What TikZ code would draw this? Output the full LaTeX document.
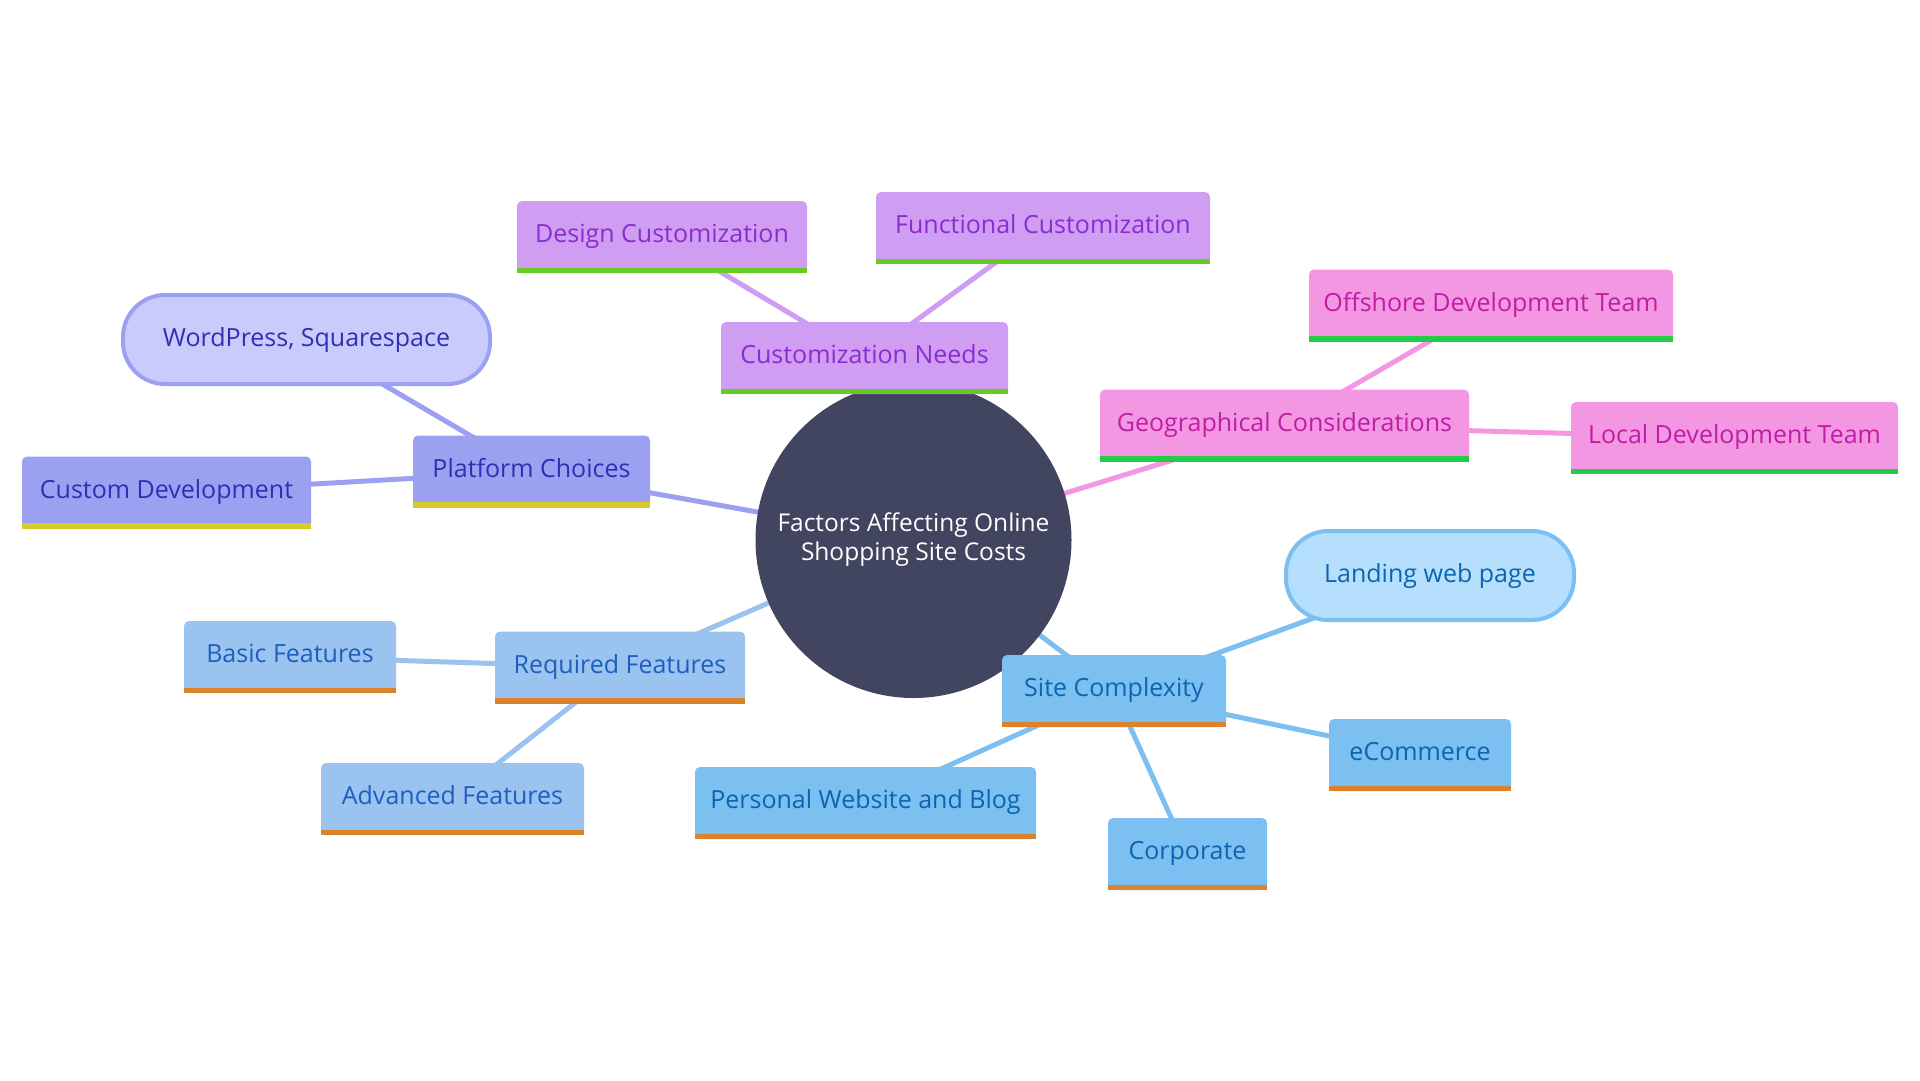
\documentclass[tikz,border=0pt]{standalone}
\usepackage{fontspec}
\setmainfont{Open Sans}
\usetikzlibrary{backgrounds}
\definecolor{plF}{HTML}{9CA0F1}
\definecolor{plT}{HTML}{2F2FB3}
\definecolor{plU}{HTML}{D6CB2A}
\definecolor{plP}{HTML}{C9CBFD}
\definecolor{cuF}{HTML}{CF9DF2}
\definecolor{cuT}{HTML}{8A2CCF}
\definecolor{cuU}{HTML}{66CC22}
\definecolor{geF}{HTML}{F397E2}
\definecolor{geT}{HTML}{C01DA6}
\definecolor{geU}{HTML}{22CC44}
\definecolor{rqF}{HTML}{9BC3F0}
\definecolor{rqT}{HTML}{1D5EBE}
\definecolor{orU}{HTML}{DA822C}
\definecolor{siF}{HTML}{7CBFF1}
\definecolor{siT}{HTML}{0C65AE}
\definecolor{siP}{HTML}{B6DEFD}
\definecolor{ctr}{HTML}{414560}
\tikzset{
  x=1pt, y=-1pt,
  every node/.style={font=\fontsize{25}{30}\selectfont},
  leaf/.style={rectangle, rounded corners=5pt, inner sep=0pt, minimum height=72pt, text height=19pt, text depth=8pt},
  pill/.style={rectangle, rounded corners=42pt, line width=4pt, inner sep=0pt, minimum height=89pt, text height=19pt, text depth=5pt},
  link/.style={line width=5pt},
}
\begin{document}
\begin{tikzpicture}
\useasboundingbox (0,0) rectangle (1920,1080);

% center
\node[circle, fill=ctr, minimum size=316pt, inner sep=0pt, text=white, align=center,
      font=\fontsize{24.5}{29}\selectfont] (c) at (913.5,540) {Factors Affecting Online\\Shopping Site Costs};

% Platform group
\node[leaf, fill=plF, text=plT, minimum width=237pt] (plat) at (531.5,471.5) {Platform Choices};
\node[leaf, fill=plF, text=plT, minimum width=289pt] (custom) at (166.5,492.5) {Custom Development};
\node[pill, fill=plP, draw=plF, text=plT, minimum width=367pt] (wp) at (306.5,339.5) {WordPress, Squarespace};

% Customization group
\node[leaf, fill=cuF, text=cuT, minimum width=287pt] (cust) at (864.5,358) {Customization Needs};
\node[leaf, fill=cuF, text=cuT, minimum width=290pt] (design) at (662,237) {Design Customization};
\node[leaf, fill=cuF, text=cuT, minimum width=334pt] (func) at (1043,228) {Functional Customization};

% Geographical group
\node[leaf, fill=geF, text=geT, minimum width=369pt] (geo) at (1284.5,425.5) {Geographical Considerations};
\node[leaf, fill=geF, text=geT, minimum width=364pt] (off) at (1491,305.5) {Offshore Development Team};
\node[leaf, fill=geF, text=geT, minimum width=327pt] (local) at (1734.5,438) {Local Development Team};

% Required features group
\node[leaf, fill=rqF, text=rqT, minimum width=250pt] (req) at (620,667.5) {Required Features};
\node[leaf, fill=rqF, text=rqT, minimum width=212pt] (basic) at (290,657) {Basic Features};
\node[leaf, fill=rqF, text=rqT, minimum width=263pt] (adv) at (452.5,799) {Advanced Features};

% Site complexity group
\node[leaf, fill=siF, text=siT, minimum width=224pt] (site) at (1114,691) {Site Complexity};
\node[pill, fill=siP, draw=siF, text=siT, minimum width=288pt] (land) at (1430,575.5) {Landing web page};
\node[leaf, fill=siF, text=siT, minimum width=182pt] (ecom) at (1420,755) {eCommerce};
\node[leaf, fill=siF, text=siT, minimum width=159pt] (corp) at (1187.5,854) {Corporate};
\node[leaf, fill=siF, text=siT, minimum width=341pt] (pers) at (865.5,803) {Personal Website and Blog};

% underlines
\foreach \n/\u in {plat/plU, custom/plU, cust/cuU, design/cuU, func/cuU,
                   geo/geU, off/geU, local/geU,
                   req/orU, basic/orU, adv/orU,
                   site/orU, ecom/orU, corp/orU, pers/orU}
  \fill[\u] (\n.south west) rectangle ([yshift=5.5pt]\n.south east);

% connectors
\begin{pgfonlayer}{background}
  \fill[white] (0,0) rectangle (1920,1080);
  \draw[link, plF] (c.center) -- (plat.center);
  \draw[link, plF] (plat.center) -- (custom.center);
  \draw[link, plF] (plat.center) -- (wp.center);
  \draw[link, cuF] (c.center) -- (cust.center);
  \draw[link, cuF] (cust.center) -- (design.center);
  \draw[link, cuF] (cust.center) -- (func.center);
  \draw[link, geF] (c.center) -- (geo.center);
  \draw[link, geF] (geo.center) -- (off.center);
  \draw[link, geF] (geo.center) -- (local.center);
  \draw[link, rqF] (c.center) -- (req.center);
  \draw[link, rqF] (req.center) -- (basic.center);
  \draw[link, rqF] (req.center) -- (adv.center);
  \draw[link, siF] (c.center) -- (site.center);
  \draw[link, siF] (site.center) -- (land.center);
  \draw[link, siF] (site.center) -- (ecom.center);
  \draw[link, siF] (site.center) -- (corp.center);
  \draw[link, siF] (site.center) -- (pers.center);
\end{pgfonlayer}
\end{tikzpicture}
\end{document}
